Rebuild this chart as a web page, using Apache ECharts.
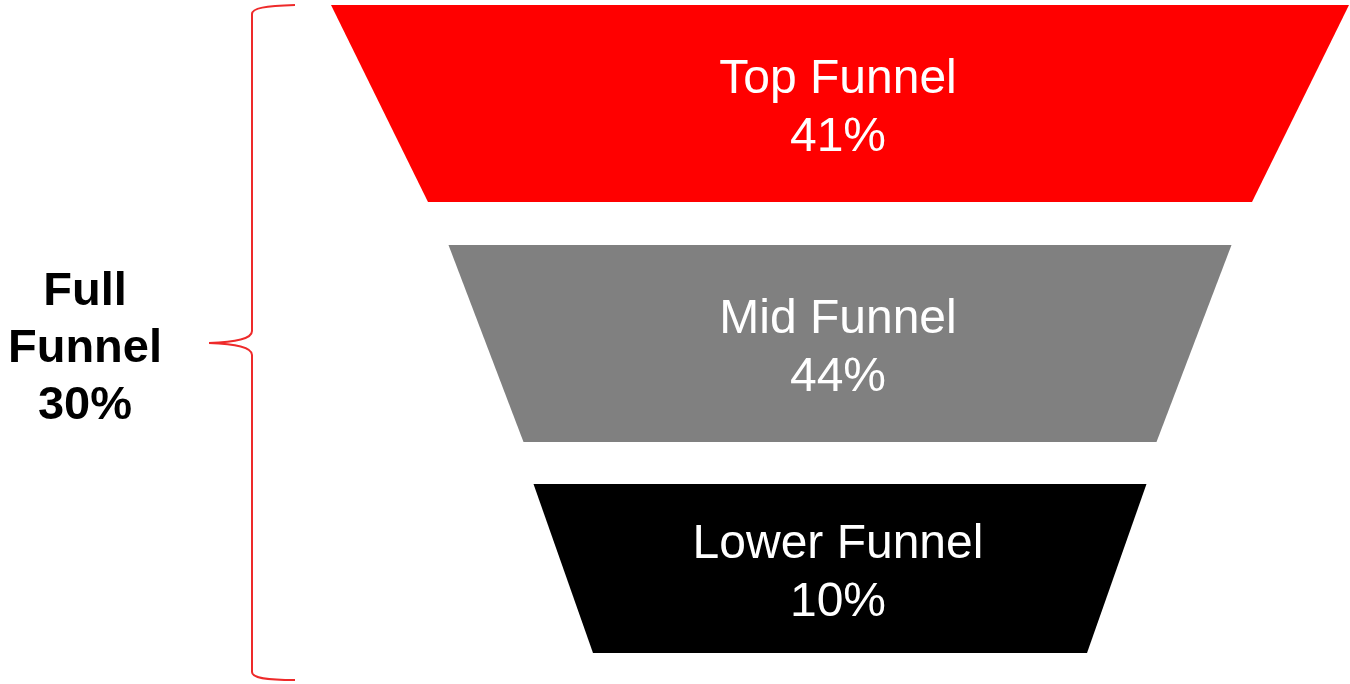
<!DOCTYPE html>
<html>
<head>
<meta charset="utf-8">
<script src="https://cdn.jsdelivr.net/npm/echarts@6/dist/echarts.min.js"></script>
<style>
html,body{margin:0;padding:0;background:#fff;}
#chart{width:1350px;height:684px;}
</style>
</head>
<body>
<div id="chart"></div>
<script>
// ---- data ----
var stages = ['Top Funnel', 'Mid Funnel', 'Lower Funnel'];
var shares = [41, 44, 10];
var stageColors = ['#FF0000', '#808080', '#000000'];
// funnel shape in axis units (x axis centred on 0, y axis downward)
var topWidths = [1018, 783, 613];
var bottomWidths = [824, 633, 494];
var bandStart = [5, 245, 484];
var bandEnd = [202, 442, 653];
var fullFunnelLabel = 'Full Funnel';
var fullFunnelShare = 30;

var seriesData = stages.map(function (s, i) {
  return [i, topWidths[i], bottomWidths[i], bandStart[i], bandEnd[i], shares[i]];
});

var chart = echarts.init(document.getElementById('chart'));

function renderItem(params, api) {
  var i = api.value(0);
  var tw = api.value(1) / 2, bw = api.value(2) / 2;
  var y0 = api.value(3), y1 = api.value(4);
  var p1 = api.coord([-tw, y0]);
  var p2 = api.coord([tw, y0]);
  var p3 = api.coord([bw, y1]);
  var p4 = api.coord([-bw, y1]);
  var c = api.coord([0, (y0 + y1) / 2]);
  return {
    type: 'group',
    children: [
      {
        type: 'polygon',
        shape: { points: [p1, p2, p3, p4] },
        style: { fill: stageColors[i] }
      },
      {
        type: 'text',
        x: c[0] - 2,
        y: c[1] + 5,
        style: {
          text: stages[i] + '\n' + api.value(5) + '%',
          fill: '#ffffff',
          font: '48px "Liberation Sans", Arial, sans-serif',
          lineHeight: 58,
          align: 'center',
          verticalAlign: 'middle'
        }
      }
    ]
  };
}

var braceStyle = { fill: 'none', stroke: '#EE2A2A', lineWidth: 2 };

chart.setOption({
  animation: false,
  grid: { left: 0, right: 0, top: 0, bottom: 0 },
  xAxis: { type: 'value', min: -840, max: 510, show: false },
  yAxis: { type: 'value', min: 0, max: 684, inverse: true, show: false },
  series: [{
    type: 'custom',
    renderItem: renderItem,
    data: seriesData,
    encode: { x: [1, 2], y: [3, 4] }
  }],
  graphic: [
    { type: 'bezierCurve', shape: { x1: 295, y1: 5, cpx1: 265, cpy1: 6, cpx2: 252, cpy2: 8, x2: 252, y2: 14 }, style: braceStyle },
    { type: 'line', shape: { x1: 252, y1: 14, x2: 252, y2: 331 }, style: braceStyle },
    { type: 'bezierCurve', shape: { x1: 252, y1: 331, cpx1: 252, cpy1: 339, cpx2: 236, cpy2: 342, x2: 209, y2: 343 }, style: braceStyle },
    { type: 'bezierCurve', shape: { x1: 209, y1: 343, cpx1: 236, cpy1: 344, cpx2: 252, cpy2: 347, x2: 252, y2: 355 }, style: braceStyle },
    { type: 'line', shape: { x1: 252, y1: 355, x2: 252, y2: 672 }, style: braceStyle },
    { type: 'bezierCurve', shape: { x1: 252, y1: 672, cpx1: 252, cpy1: 678, cpx2: 265, cpy2: 680, x2: 295, y2: 680 }, style: braceStyle },
    {
      type: 'text',
      x: 85,
      y: 349,
      style: {
        text: fullFunnelLabel.split(' ').join('\n') + '\n' + fullFunnelShare + '%',
        fill: '#000000',
        font: 'bold 47px "Liberation Sans", Arial, sans-serif',
        lineHeight: 57,
        align: 'center',
        verticalAlign: 'middle'
      }
    }
  ]
});
</script>
</body>
</html>
